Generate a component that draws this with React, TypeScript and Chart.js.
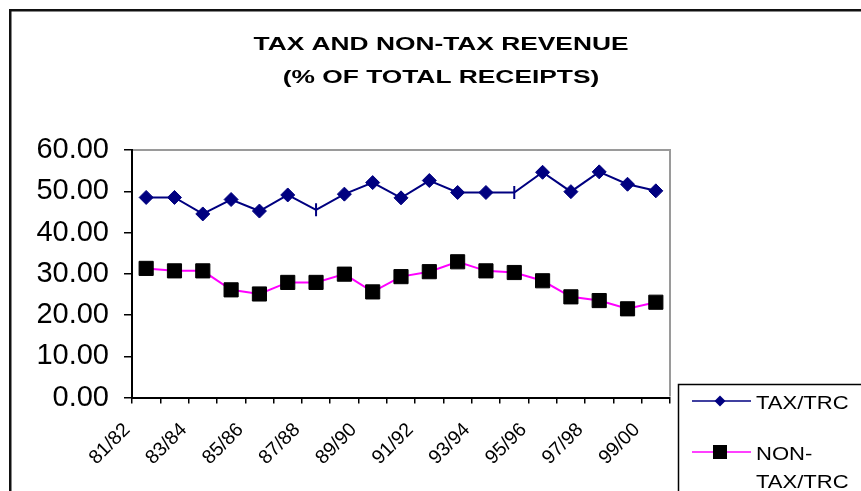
import React, { useEffect, useRef } from 'react';
import { Chart, registerables } from 'chart.js';

Chart.register(...registerables);

const categories = [
  '81/82', '82/83', '83/84', '84/85', '85/86', '86/87', '87/88', '88/89', '89/90', '90/91',
  '91/92', '92/93', '93/94', '94/95', '95/96', '96/97', '97/98', '98/99', '99/00',
];
const taxTrc = [48.5, 48.5, 44.5, 48.0, 45.2, 49.1, 45.5, 49.3, 52.1, 48.4, 52.6, 49.7, 49.7, 49.7, 54.6, 49.9, 54.7, 51.7, 50.1];
const nonTaxTrc = [31.3, 30.7, 30.7, 26.1, 25.1, 27.9, 27.9, 29.9, 25.6, 29.3, 30.5, 32.9, 30.7, 30.3, 28.3, 24.4, 23.5, 21.5, 23.1];
const seriesNames = ['TAX/TRC', 'NON-TAX/TRC'];
const titleLines = ['TAX AND NON-TAX REVENUE', '(% OF TOTAL RECEIPTS)'];
const yMin = 0;
const yMax = 60;
const yStep = 10;
// points of the TAX/TRC series that show only a tick instead of a diamond
const taxTickOnlyPoints = [6, 13];

const FONT = '"Liberation Sans", Arial, Helvetica, sans-serif';
const NAVY = '#000080';
const MAGENTA = '#FF00FF';

const decorPlugin = {
  id: 'decor',
  beforeDatasetsDraw(chart: any) {
    const { ctx, chartArea: a } = chart;
    ctx.save();
    ctx.strokeStyle = '#9a9a9a';
    ctx.lineWidth = 2;
    ctx.beginPath();
    ctx.moveTo(a.left + 1, a.top);
    ctx.lineTo(a.right, a.top);
    ctx.lineTo(a.right, a.bottom - 1);
    ctx.stroke();
    ctx.restore();
  },
  afterDraw(chart: any) {
    const { ctx, width, height } = chart;
    ctx.save();
    // outer frame (only top/left visible)
    ctx.fillStyle = '#111';
    ctx.fillRect(9, 9, width - 9, 2.5);
    ctx.fillRect(9, 9, 2.5, height - 9);

    // title
    ctx.fillStyle = '#000';
    ctx.font = `bold 18.5px ${FONT}`;
    ctx.textAlign = 'center';
    ctx.textBaseline = 'alphabetic';
    const w1 = ctx.measureText(titleLines[0]).width;
    const sx = 375 / w1;
    titleLines.forEach((t, i) => {
      ctx.save();
      ctx.translate(441, 49.5 + i * 33);
      ctx.scale(sx, 1);
      ctx.fillText(t, 0, 0);
      ctx.restore();
    });

    // legend box
    ctx.strokeStyle = '#000';
    ctx.lineWidth = 1.5;
    ctx.beginPath();
    ctx.moveTo(678.5, height);
    ctx.lineTo(678.5, 384.5);
    ctx.lineTo(width, 384.5);
    ctx.stroke();

    const ds = chart.data.datasets;
    // item 1
    ctx.strokeStyle = ds[0].borderColor;
    ctx.lineWidth = 1.5;
    ctx.beginPath();
    ctx.moveTo(692, 401);
    ctx.lineTo(751, 401);
    ctx.stroke();
    ctx.fillStyle = NAVY;
    ctx.beginPath();
    ctx.moveTo(720 - 5.5, 401);
    ctx.lineTo(720, 401 - 5.5);
    ctx.lineTo(720 + 5.5, 401);
    ctx.lineTo(720, 401 + 5.5);
    ctx.closePath();
    ctx.fill();
    // item 2
    ctx.strokeStyle = ds[1].borderColor;
    ctx.beginPath();
    ctx.moveTo(692, 452);
    ctx.lineTo(751, 452);
    ctx.stroke();
    ctx.fillStyle = '#000';
    ctx.fillRect(713, 445, 14, 14);

    // legend texts
    ctx.fillStyle = '#000';
    ctx.font = `19px ${FONT}`;
    ctx.textAlign = 'left';
    const lsx = 1.16;
    const drawT = (t: string, x: number, y: number) => {
      ctx.save();
      ctx.translate(x, y);
      ctx.scale(lsx, 1);
      ctx.fillText(t, 0, 0);
      ctx.restore();
    };
    drawT(ds[0].label, 756, 408.5);
    const parts = String(ds[1].label).split('-');
    drawT(parts[0] + '-', 756, 459.5);
    drawT(parts.slice(1).join('-'), 756, 487.5);
    ctx.restore();
  },
};

export default function App() {
  const ref = useRef<HTMLCanvasElement>(null);
  useEffect(() => {
    const isTickOnly = (c: any) => taxTickOnlyPoints.includes(c.dataIndex);
    const chart = new Chart(ref.current as HTMLCanvasElement, {
      type: 'line',
      data: {
        labels: categories,
        datasets: [
          {
            label: seriesNames[0],
            data: taxTrc,
            borderColor: NAVY,
            backgroundColor: NAVY,
            borderWidth: 2,
            tension: 0,
            pointStyle: (c: any) => (isTickOnly(c) ? 'line' : 'rectRot'),
            pointRotation: (c: any) => (isTickOnly(c) ? 90 : 0),
            pointRadius: (c: any) => (isTickOnly(c) ? 6.5 : 7),
            pointBorderWidth: (c: any) => (isTickOnly(c) ? 2 : 1),
            pointBackgroundColor: NAVY,
            pointBorderColor: NAVY,
          } as any,
          {
            label: seriesNames[1],
            data: nonTaxTrc,
            borderColor: MAGENTA,
            backgroundColor: '#000',
            borderWidth: 2,
            tension: 0,
            pointStyle: 'rect',
            pointRadius: 10,
            pointBorderWidth: 1,
            pointBackgroundColor: '#000',
            pointBorderColor: '#000',
          } as any,
        ],
      },
      options: {
        responsive: false,
        animation: false,
        devicePixelRatio: 1,
        events: [],
        layout: { padding: { top: 150, right: 191, bottom: 0, left: 0 }, autoPadding: false } as any,
        plugins: {
          legend: { display: false },
          title: { display: false },
          tooltip: { enabled: false },
        },
        scales: {
          x: {
            type: 'category',
            offset: true,
            grid: { offset: true, drawOnChartArea: false, drawTicks: true, tickLength: 6, color: '#000', lineWidth: 1.5 },
            border: { display: true, color: '#000', width: 2 },
            ticks: {
              autoSkip: false,
              maxRotation: 45,
              minRotation: 45,
              padding: 15,
              labelOffset: -19,
              color: '#000',
              font: { family: FONT, size: 19.5 },
              callback: (_v: any, i: number) => (i % 2 === 0 ? categories[i] : ''),
            },
            afterFit: (s: any) => {
              s.height = 93.5;
            },
          },
          y: {
            min: yMin,
            max: yMax,
            grid: { drawOnChartArea: false, drawTicks: true, tickLength: 8, color: '#000', lineWidth: 1.5 },
            border: { display: true, color: '#000', width: 2 },
            ticks: {
              stepSize: yStep,
              padding: 15,
              color: '#000',
              font: { family: FONT, size: 29 },
              callback: (v: any) => Number(v).toFixed(2),
            },
            afterFit: (s: any) => {
              s.width = 132;
            },
          },
        },
      } as any,
      plugins: [decorPlugin],
    });
    return () => chart.destroy();
  }, []);

  return (
    <div style={{ position: 'fixed', left: 0, top: 0, width: 861, height: 491, overflow: 'hidden', background: '#fff' }}>
      <canvas ref={ref} width={861} height={491} style={{ display: 'block', width: 861, height: 491 }} />
    </div>
  );
}
